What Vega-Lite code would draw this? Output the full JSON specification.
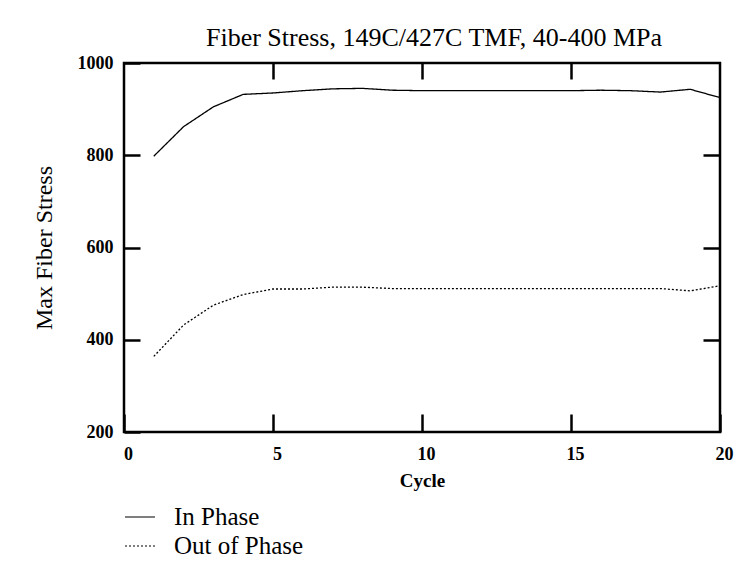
{
  "$schema": "https://vega.github.io/schema/vega-lite/v6.json",
  "width": 596,
  "height": 369,
  "autosize": {"type": "none"},
  "padding": {"left": 124, "top": 63, "right": 19, "bottom": 133},
  "background": "white",
  "title": {
    "text": "Fiber Stress, 149C/427C TMF, 40-400 MPa",
    "font": "Liberation Serif",
    "fontSize": 26,
    "fontWeight": "normal",
    "color": "black",
    "anchor": "middle",
    "dx": 12,
    "dy": 32,
    "offset": 14,
    "baseline": "alphabetic"
  },
  "data": {
    "values": [
      {"cycle": 1, "stress": 798, "series": "In Phase"},
      {"cycle": 2, "stress": 862, "series": "In Phase"},
      {"cycle": 3, "stress": 905, "series": "In Phase"},
      {"cycle": 4, "stress": 932, "series": "In Phase"},
      {"cycle": 5, "stress": 935, "series": "In Phase"},
      {"cycle": 6, "stress": 940, "series": "In Phase"},
      {"cycle": 7, "stress": 944, "series": "In Phase"},
      {"cycle": 8, "stress": 945, "series": "In Phase"},
      {"cycle": 9, "stress": 941, "series": "In Phase"},
      {"cycle": 10, "stress": 940, "series": "In Phase"},
      {"cycle": 11, "stress": 940, "series": "In Phase"},
      {"cycle": 12, "stress": 940, "series": "In Phase"},
      {"cycle": 13, "stress": 940, "series": "In Phase"},
      {"cycle": 14, "stress": 940, "series": "In Phase"},
      {"cycle": 15, "stress": 940, "series": "In Phase"},
      {"cycle": 16, "stress": 941, "series": "In Phase"},
      {"cycle": 17, "stress": 940, "series": "In Phase"},
      {"cycle": 18, "stress": 937, "series": "In Phase"},
      {"cycle": 19, "stress": 943, "series": "In Phase"},
      {"cycle": 20, "stress": 925, "series": "In Phase"},
      {"cycle": 1, "stress": 364, "series": "Out of Phase"},
      {"cycle": 2, "stress": 432, "series": "Out of Phase"},
      {"cycle": 3, "stress": 475, "series": "Out of Phase"},
      {"cycle": 4, "stress": 498, "series": "Out of Phase"},
      {"cycle": 5, "stress": 510, "series": "Out of Phase"},
      {"cycle": 6, "stress": 510, "series": "Out of Phase"},
      {"cycle": 7, "stress": 514, "series": "Out of Phase"},
      {"cycle": 8, "stress": 514, "series": "Out of Phase"},
      {"cycle": 9, "stress": 511, "series": "Out of Phase"},
      {"cycle": 10, "stress": 511, "series": "Out of Phase"},
      {"cycle": 11, "stress": 511, "series": "Out of Phase"},
      {"cycle": 12, "stress": 511, "series": "Out of Phase"},
      {"cycle": 13, "stress": 511, "series": "Out of Phase"},
      {"cycle": 14, "stress": 511, "series": "Out of Phase"},
      {"cycle": 15, "stress": 511, "series": "Out of Phase"},
      {"cycle": 16, "stress": 511, "series": "Out of Phase"},
      {"cycle": 17, "stress": 511, "series": "Out of Phase"},
      {"cycle": 18, "stress": 511, "series": "Out of Phase"},
      {"cycle": 19, "stress": 506, "series": "Out of Phase"},
      {"cycle": 20, "stress": 517, "series": "Out of Phase"}
    ]
  },
  "layer": [
    {
      "mark": {"type": "line", "strokeWidth": 1.3, "color": "black"},
      "encoding": {
        "x": {
          "field": "cycle", "type": "quantitative",
          "scale": {"domain": [0, 20], "nice": false, "zero": false},
          "axis": {
            "orient": "bottom", "values": [0, 5, 10, 15, 20], "format": "d", "grid": false, "domain": false,
            "ticks": true, "tickSize": -18, "tickWidth": 2.5, "tickColor": "black",
            "labelFont": "Liberation Serif", "labelFontSize": 18, "labelFontWeight": "bold", "labelColor": "black",
            "labelPadding": 31, "labelOffset": 4, "labelFlush": false,
            "title": "Cycle", "titleFont": "Liberation Serif", "titleFontSize": 19, "titleFontWeight": "bold", "titleColor": "black", "titlePadding": 8
          }
        },
        "y": {
          "field": "stress", "type": "quantitative",
          "scale": {"domain": [200, 1000], "nice": false, "zero": false},
          "axis": {
            "orient": "left", "values": [200, 400, 600, 800, 1000], "format": "d", "grid": false, "domain": false,
            "ticks": true, "tickSize": -16, "tickWidth": 2.5, "tickColor": "black",
            "labelFont": "Liberation Serif", "labelFontSize": 18, "labelFontWeight": "bold", "labelColor": "black",
            "labelPadding": 27, "labelFlush": false,
            "title": "Max Fiber Stress", "titleFont": "Liberation Serif", "titleFontSize": 24, "titleFontWeight": "normal", "titleColor": "black", "titlePadding": 21
          }
        },
        "strokeDash": {
          "field": "series", "type": "nominal",
          "scale": {"domain": ["In Phase", "Out of Phase"], "range": [[1, 0], [2, 2]]},
          "legend": {
            "orient": "none", "legendX": 0, "legendY": 438, "direction": "vertical", "title": null,
            "symbolType": "stroke", "symbolSize": 900, "symbolStrokeWidth": 1.2, "symbolStrokeColor": "black",
            "labelFont": "Liberation Serif", "labelFontSize": 25, "labelColor": "black", "labelOffset": 18, "rowPadding": 0
          }
        }
      }
    },
    {
      "mark": {"type": "point", "opacity": 0},
      "encoding": {
        "x": {
          "field": "cycle", "type": "quantitative",
          "axis": {"orient": "top", "values": [5, 10, 15], "labels": false, "grid": false, "domain": false,
                   "tickSize": -16, "tickWidth": 2.5, "tickColor": "black", "title": null}
        },
        "y": {
          "field": "stress", "type": "quantitative",
          "axis": {"orient": "right", "values": [400, 600, 800], "labels": false, "grid": false, "domain": false,
                   "tickSize": -17, "tickWidth": 2.5, "tickColor": "black", "title": null}
        }
      }
    }
  ],
  "resolve": {"axis": {"x": "independent", "y": "independent"}},
  "config": {
    "view": {"stroke": "black", "strokeWidth": 2.5}
  }
}
